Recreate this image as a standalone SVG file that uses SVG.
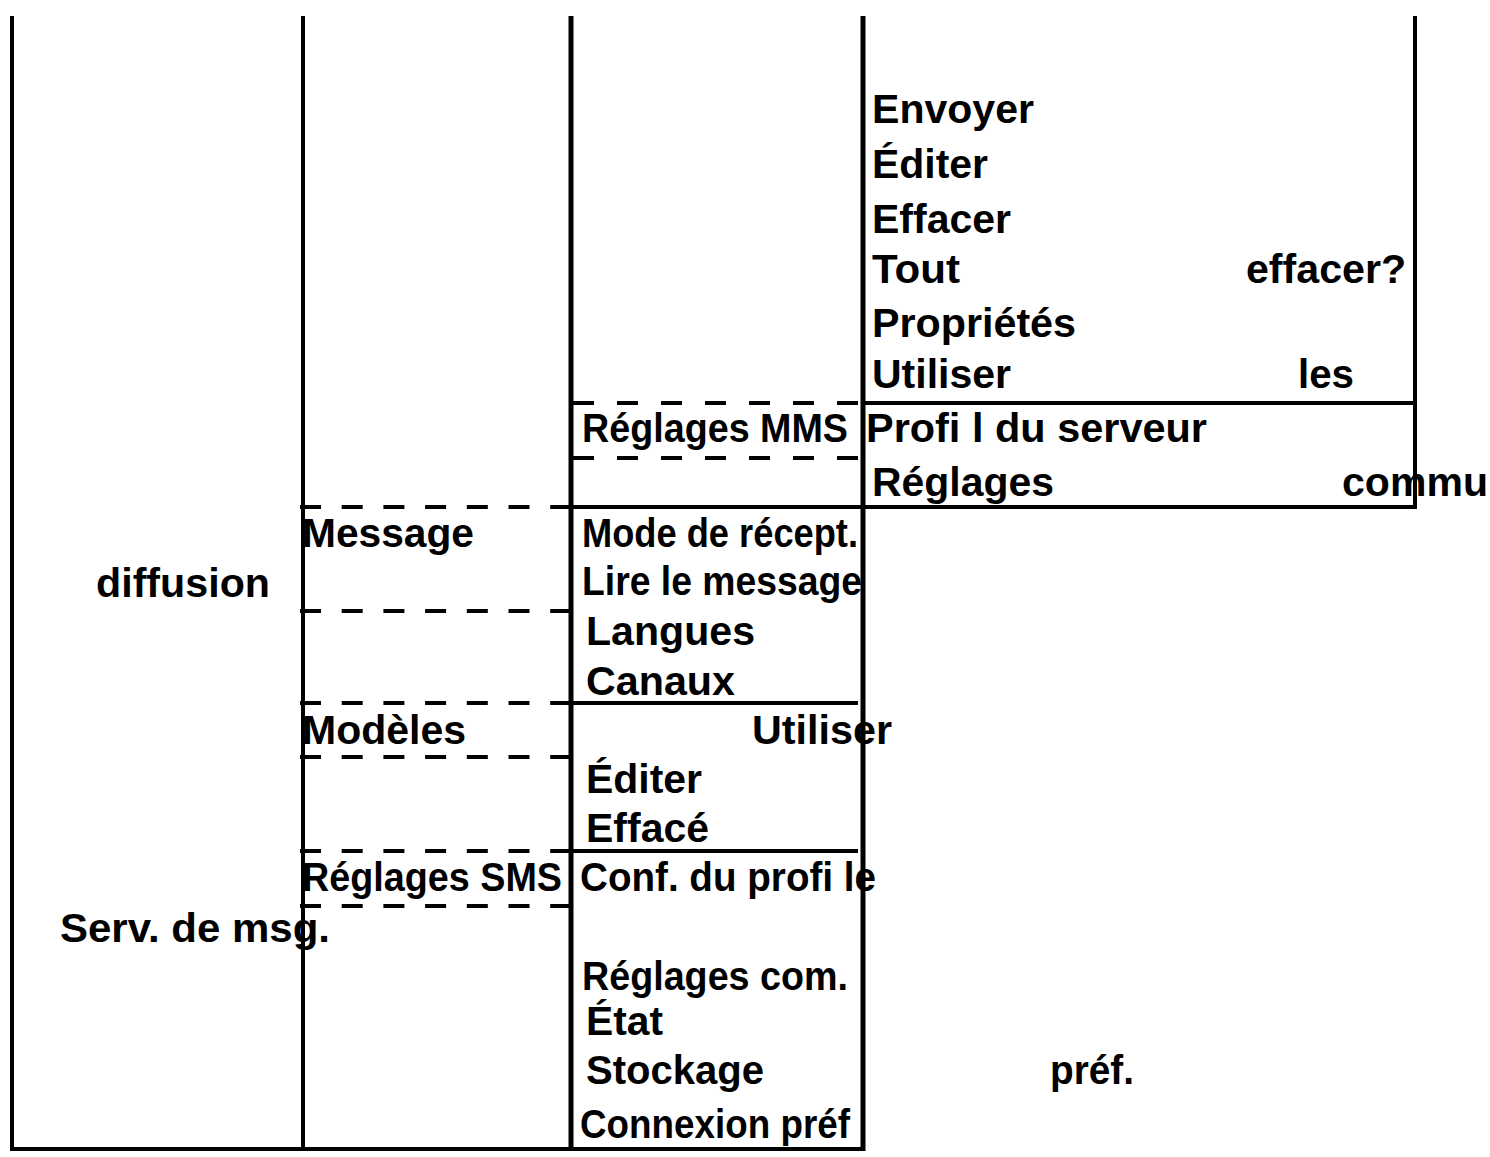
<svg xmlns="http://www.w3.org/2000/svg" width="1490" height="1157" viewBox="0 0 1490 1157">
<style>
  text { font-family: "Liberation Sans", Arial, sans-serif; font-weight: bold; font-size: 41px; fill: #000; }
  .solid { stroke: #000; stroke-width: 4; fill: none; }
  .thick { stroke: #000; stroke-width: 5; fill: none; }
  .dash2 { stroke: #000; stroke-width: 4; fill: none; stroke-dasharray: 21 20.7; }
  .dash3 { stroke: #000; stroke-width: 4; fill: none; stroke-dasharray: 21 23; }
</style>
<rect x="0" y="0" width="1490" height="1157" fill="#fff"/>
<g id="connectors">
  <line class="solid" x1="12" y1="16" x2="12" y2="1151"/>
  <line class="solid" x1="303" y1="16" x2="303" y2="1151"/>
  <line class="thick" x1="571" y1="16" x2="571" y2="1151"/>
  <line class="thick" x1="863" y1="16" x2="863" y2="1151"/>
  <line class="solid" x1="1415" y1="16" x2="1415" y2="509"/>
  <line class="solid" x1="10" y1="1149" x2="865" y2="1149"/>
  <line class="solid" x1="863" y1="403" x2="1417" y2="403"/>
  <line class="solid" x1="571" y1="507" x2="1417" y2="507"/>
  <line class="solid" x1="571" y1="703" x2="858" y2="703"/>
  <line class="solid" x1="571" y1="851" x2="858" y2="851"/>
  <line class="dash3" x1="573" y1="403" x2="863" y2="403"/>
  <line class="dash3" x1="573" y1="458" x2="863" y2="458"/>
  <line class="dash2" x1="300" y1="507" x2="571" y2="507"/>
  <line class="dash2" x1="300" y1="611" x2="571" y2="611"/>
  <line class="dash2" x1="300" y1="703" x2="571" y2="703"/>
  <line class="dash2" x1="300" y1="757" x2="571" y2="757"/>
  <line class="dash2" x1="300" y1="851" x2="571" y2="851"/>
  <line class="dash2" x1="300" y1="906" x2="571" y2="906"/>
</g>
<g id="node-col1">
  <text x="96" y="597" textLength="174" lengthAdjust="spacingAndGlyphs">diffusion</text>
  <text x="60" y="942" textLength="270" lengthAdjust="spacingAndGlyphs">Serv. de msg.</text>
</g>
<g id="node-message">
  <text x="302" y="547" textLength="172" lengthAdjust="spacingAndGlyphs">Message</text>
</g>
<g id="node-modeles">
  <text x="302" y="744" textLength="164" lengthAdjust="spacingAndGlyphs">Modèles</text>
</g>
<g id="node-reglages-sms">
  <text x="302" y="891" textLength="260" lengthAdjust="spacingAndGlyphs">Réglages SMS</text>
</g>
<g id="node-reglages-mms">
  <text x="582" y="442" textLength="266" lengthAdjust="spacingAndGlyphs">Réglages MMS</text>
</g>
<g id="node-message-menu">
  <text x="582" y="547" textLength="276" lengthAdjust="spacingAndGlyphs">Mode de récept.</text>
  <text x="582" y="595" textLength="280" lengthAdjust="spacingAndGlyphs">Lire le message</text>
  <text x="586" y="645" textLength="169" lengthAdjust="spacingAndGlyphs">Langues</text>
  <text x="586" y="695" textLength="149" lengthAdjust="spacingAndGlyphs">Canaux</text>
</g>
<g id="node-modeles-menu">
  <text x="752" y="744" textLength="140" lengthAdjust="spacingAndGlyphs">Utiliser</text>
  <text x="586" y="793" textLength="116" lengthAdjust="spacingAndGlyphs">Éditer</text>
  <text x="586" y="842" textLength="123" lengthAdjust="spacingAndGlyphs">Effacé</text>
</g>
<g id="node-sms-menu">
  <text x="580" y="891" textLength="296" lengthAdjust="spacingAndGlyphs">Conf. du proﬁ le</text>
  <text x="582" y="990" textLength="266" lengthAdjust="spacingAndGlyphs">Réglages com.</text>
  <text x="586" y="1035" textLength="77" lengthAdjust="spacingAndGlyphs">État</text>
  <text x="586" y="1084" textLength="178" lengthAdjust="spacingAndGlyphs">Stockage</text>
  <text x="1050" y="1084" textLength="84" lengthAdjust="spacingAndGlyphs">préf.</text>
  <text x="580" y="1138" textLength="270" lengthAdjust="spacingAndGlyphs">Connexion préf</text>
</g>
<g id="node-options">
  <text x="872" y="123" textLength="162" lengthAdjust="spacingAndGlyphs">Envoyer</text>
  <text x="872" y="178" textLength="116" lengthAdjust="spacingAndGlyphs">Éditer</text>
  <text x="872" y="233" textLength="139" lengthAdjust="spacingAndGlyphs">Effacer</text>
  <text x="872" y="283" textLength="88" lengthAdjust="spacingAndGlyphs">Tout</text>
  <text x="1246" y="283" textLength="160" lengthAdjust="spacingAndGlyphs">effacer?</text>
  <text x="872" y="337" textLength="204" lengthAdjust="spacingAndGlyphs">Propriétés</text>
  <text x="872" y="388" textLength="139" lengthAdjust="spacingAndGlyphs">Utiliser</text>
  <text x="1298" y="388" textLength="56" lengthAdjust="spacingAndGlyphs">les</text>
</g>
<g id="node-mms-menu">
  <text x="866" y="442" textLength="341" lengthAdjust="spacingAndGlyphs">Proﬁ l du serveur</text>
  <text x="872" y="496" textLength="182" lengthAdjust="spacingAndGlyphs">Réglages</text>
  <text x="1342" y="496" textLength="146" lengthAdjust="spacingAndGlyphs">commu</text>
</g>
</svg>
